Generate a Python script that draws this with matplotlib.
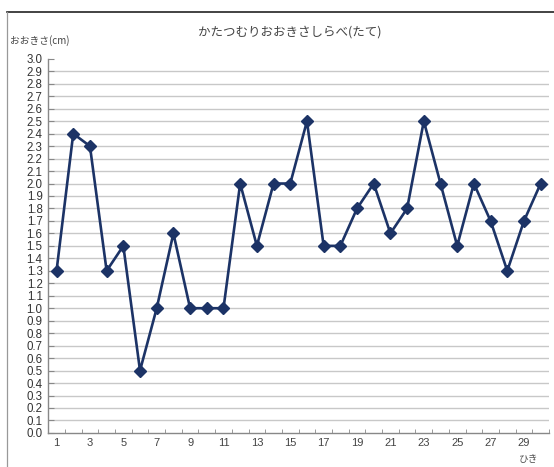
import matplotlib.pyplot as plt
from matplotlib.lines import Line2D

plt.rcParams['font.family'] = ['Noto Sans CJK JP', 'DejaVu Sans']

title = 'かたつむりおおきさしらべ(たて)'
y_label = 'おおきさ(cm)'
x_label = 'ひき'

snail_no = list(range(1, 31))
length_cm = [1.3, 2.4, 2.3, 1.3, 1.5, 0.5, 1.0, 1.6, 1.0, 1.0,
             1.0, 2.0, 1.5, 2.0, 2.0, 2.5, 1.5, 1.5, 1.8, 2.0,
             1.6, 1.8, 2.5, 2.0, 1.5, 2.0, 1.7, 1.3, 1.7, 2.0]
y_ticks = [round(i * 0.1, 1) for i in range(31)]
x_tick_labels = list(range(1, 31, 2))

fig = plt.figure(figsize=(5.54, 4.67), dpi=100)
ax = fig.add_axes([0.087, 0.073, 0.904, 0.801])

# outer frame of the chart area
fig.add_artist(Line2D([7/554, 1], [1 - 12/467, 1 - 12/467], color='#222222', lw=1.2))
fig.add_artist(Line2D([7/554, 7/554], [0, 1 - 12/467], color='#999999', lw=0.9))

line_color = '#1c3366'
ax.plot(snail_no, length_cm, color=line_color, lw=1.9, marker='D',
        markersize=6, markerfacecolor=line_color, markeredgecolor=line_color,
        zorder=3, clip_on=False)

ax.set_xlim(0.5, 30.5)
ax.set_ylim(0, 3.0)

ax.set_yticks(y_ticks)
ax.set_yticklabels(['%.1f' % v for v in y_ticks], family=['Liberation Sans'],
                   fontsize=8.3, color='#333333')
ax.yaxis.grid(True, color='#c8c8c8', lw=1.0)
ax.get_ygridlines()[0].set_visible(False)
ax.get_ygridlines()[-1].set_visible(False)
ax.set_axisbelow(True)

ax.set_xticks(x_tick_labels)
ax.set_xticklabels([str(v) for v in x_tick_labels], family=['Liberation Sans'],
                   fontsize=8, color='#444444')
ax.set_xticks([i + 0.5 for i in range(0, 31)], minor=True)
ax.tick_params(axis='x', which='major', length=0, pad=4)
ax.tick_params(axis='x', which='minor', direction='in', length=3, color='#888888')
ax.tick_params(axis='y', direction='in', length=4, color='#888888', pad=4)

for s in ['top', 'right']:
    ax.spines[s].set_visible(False)
for s in ['left', 'bottom']:
    ax.spines[s].set_color('#888888')
    ax.spines[s].set_linewidth(1.0)

fig.text(290/554, 1 - 32/467, title, ha='center', va='center',
         fontsize=9, color='#444444')
fig.text(10/554, 1 - 41/467, y_label, ha='left', va='center',
         fontsize=7, color='#444444')
fig.text(538/554, 1 - 459/467, x_label, ha='right', va='center',
         fontsize=7, color='#555555')

plt.savefig('out.png', dpi=100)
plt.close()
